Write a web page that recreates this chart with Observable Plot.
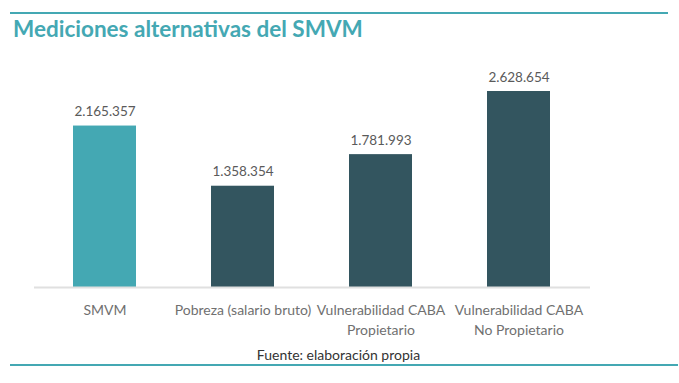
<!DOCTYPE html>
<html>
<head>
<meta charset="utf-8">
<script src="https://cdn.jsdelivr.net/npm/d3@7"></script>
<script src="https://cdn.jsdelivr.net/npm/@observablehq/plot@0.6"></script>
<style>
  html, body { margin: 0; padding: 0; background: #fff; }
  #wrap { position: relative; width: 679px; height: 383px; overflow: hidden; font-family: Lato, sans-serif; }
  .rule { position: absolute; height: 2px; background: #44a8b3; }
  #title { position: absolute; left: 13px; top: 15px; font-size: 22.5px; font-weight: 700; color: #44a8b3; white-space: nowrap; }
  #caption { position: absolute; left: 0; width: 677px; top: 346px; text-align: center; font-size: 14px; color: #333; }
  #chart { position: absolute; left: 0; top: 0; }
</style>
</head>
<body>
<div id="wrap">
  <div class="rule" style="left:10px; width:658px; top:12px;"></div>
  <div id="title">Mediciones alternativas del SMVM</div>
  <div id="chart"></div>
  <div id="caption">Fuente: elaboración propia</div>
  <div class="rule" style="left:10px; width:668px; top:364px;"></div>
</div>
<script>
const categories = ["SMVM", "Pobreza (salario bruto)", "Vulnerabilidad CABA\nPropietario", "Vulnerabilidad CABA\nNo Propietario"];
const values = [2165357, 1358354, 1781993, 2628654];
const colors = ["#44a8b3", "#33555f", "#33555f", "#33555f"];

const data = categories.map((c, i) => ({cat: c, value: values[i], color: colors[i]}));
const fmt = d3.formatLocale({decimal: ",", thousands: ".", grouping: [3], currency: ["$", ""]}).format(",d");

const chart = Plot.plot({
  width: 679,
  height: 383,
  marginTop: 91,
  marginBottom: 96,
  marginLeft: 34,
  marginRight: 89,
  style: {fontFamily: "Lato, sans-serif", background: "transparent", overflow: "visible"},
  x: {domain: categories, paddingInner: 0.54, paddingOuter: 0.274, label: null},
  y: {domain: [0, d3.max(values)], axis: null},
  marks: [
    Plot.barY(data, {x: "cat", y: "value", fill: "color"}),
    Plot.ruleY([0], {stroke: "#e0e0e0", strokeWidth: 2}),
    Plot.text(data, {x: "cat", y: "value", text: d => fmt(d.value), dy: -10, lineAnchor: "bottom", fontSize: 13.5, fill: "#5a5a5a"}),
    Plot.axisX({tickSize: 0, tickPadding: 13, fontSize: 14, lineHeight: 1.45, color: "#707070", label: null})
  ]
});
document.getElementById("chart").appendChild(chart);
</script>
</body>
</html>
